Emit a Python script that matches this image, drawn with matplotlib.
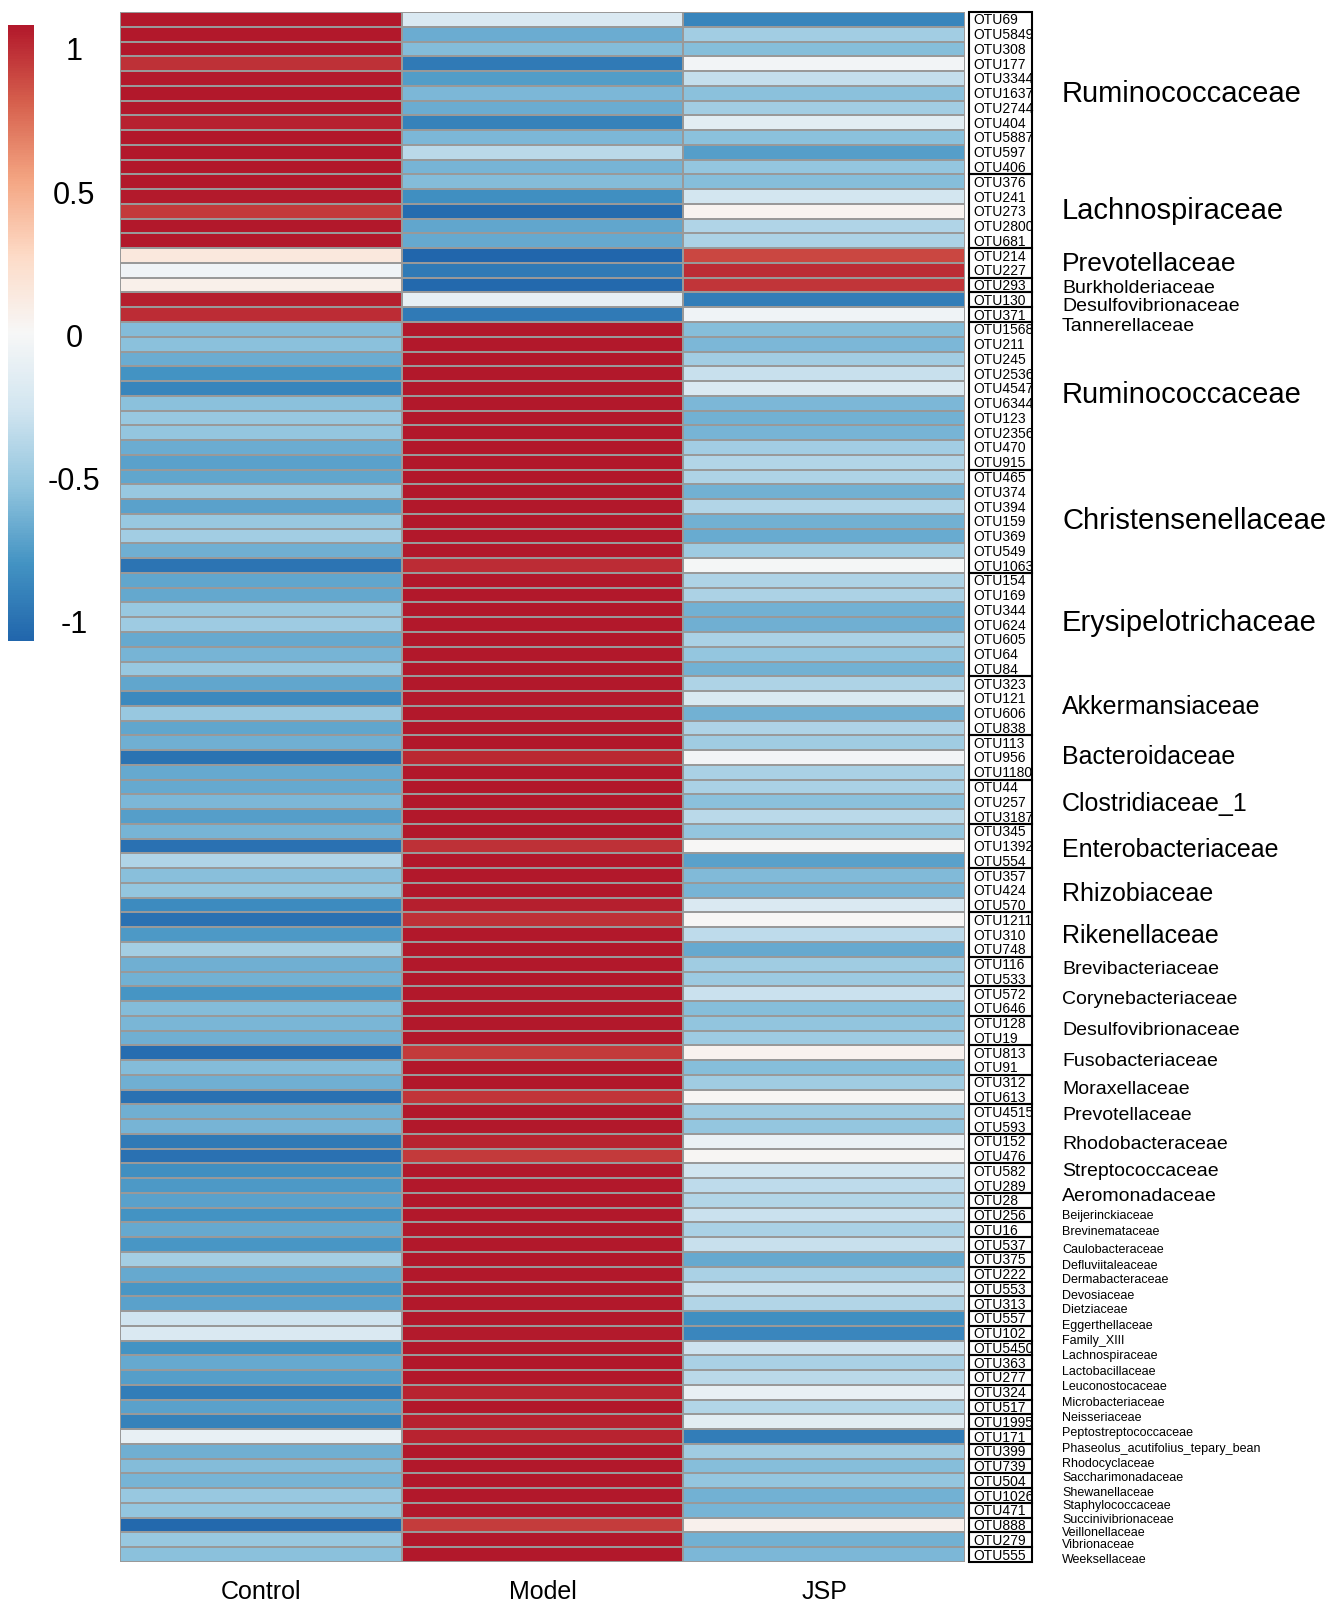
import numpy as np
import matplotlib
matplotlib.use("Agg")
import matplotlib.pyplot as plt
from matplotlib.colors import LinearSegmentedColormap
from matplotlib.patches import Rectangle
from matplotlib.transforms import blended_transform_factory

plt.rcParams['font.family'] = ['Liberation Sans', 'DejaVu Sans']

# columnas / muestras
samples = ['Control', 'Model', 'JSP']

otus = ['OTU69', 'OTU5849', 'OTU308', 'OTU177', 'OTU3344', 'OTU1637', 'OTU2744',
        'OTU404', 'OTU5887', 'OTU597', 'OTU406', 'OTU376', 'OTU241', 'OTU273',
        'OTU2800', 'OTU681', 'OTU214', 'OTU227', 'OTU293', 'OTU130', 'OTU371',
        'OTU1568', 'OTU211', 'OTU245', 'OTU2536', 'OTU4547', 'OTU6344', 'OTU123',
        'OTU2356', 'OTU470', 'OTU915', 'OTU465', 'OTU374', 'OTU394', 'OTU159',
        'OTU369', 'OTU549', 'OTU1063', 'OTU154', 'OTU169', 'OTU344', 'OTU624',
        'OTU605', 'OTU64', 'OTU84', 'OTU323', 'OTU121', 'OTU606', 'OTU838',
        'OTU113', 'OTU956', 'OTU1180', 'OTU44', 'OTU257', 'OTU3187', 'OTU345',
        'OTU1392', 'OTU554', 'OTU357', 'OTU424', 'OTU570', 'OTU1211', 'OTU310',
        'OTU748', 'OTU116', 'OTU533', 'OTU572', 'OTU646', 'OTU128', 'OTU19',
        'OTU813', 'OTU91', 'OTU312', 'OTU613', 'OTU4515', 'OTU593', 'OTU152',
        'OTU476', 'OTU582', 'OTU289', 'OTU28', 'OTU256', 'OTU16', 'OTU537',
        'OTU375', 'OTU222', 'OTU553', 'OTU313', 'OTU557', 'OTU102', 'OTU5450',
        'OTU363', 'OTU277', 'OTU324', 'OTU517', 'OTU1995', 'OTU171', 'OTU399',
        'OTU739', 'OTU504', 'OTU1026', 'OTU471', 'OTU888', 'OTU279', 'OTU555']

control = [1.08, 1.12, 1.15, 0.98, 1.07, 1.15, 1.12, 1.04, 1.15, 1.10, 1.14,
           1.15, 1.07, 0.95, 1.10, 1.10, 0.15, -0.05, 0.08, 1.05, 1.00,
           -0.58, -0.55, -0.66, -0.80, -0.88, -0.55, -0.50, -0.52, -0.66, -0.72,
           -0.70, -0.50, -0.72, -0.50, -0.46, -0.65, -0.98,
           -0.70, -0.69, -0.50, -0.48, -0.68, -0.62, -0.50,
           -0.70, -0.86, -0.50, -0.70, -0.65, -0.99, -0.68, -0.68, -0.60, -0.74,
           -0.62, -1.00, -0.40, -0.56, -0.52, -0.85, -1.00, -0.76, -0.45,
           -0.65, -0.64, -0.79, -0.58, -0.61, -0.65, -1.02, -0.58, -0.65, -1.00,
           -0.65, -0.62, -0.95, -1.00, -0.82, -0.76, -0.72,
           -0.80, -0.68, -0.78, -0.45, -0.68, -0.78, -0.72, -0.27, -0.20, -0.80,
           -0.68, -0.74, -0.93, -0.72, -0.90, -0.10, -0.65, -0.58, -0.62, -0.50,
           -0.52, -1.05, -0.50, -0.55]

model = [-0.20, -0.66, -0.58, -0.95, -0.75, -0.60, -0.66, -0.90, -0.60, -0.36, -0.62,
         -0.58, -0.82, -1.03, -0.70, -0.68, -1.07, -0.95, -1.05, -0.12, -0.95,
         1.15, 1.15, 1.12, 1.10, 1.08, 1.15, 1.14, 1.14, 1.12, 1.11,
         1.11, 1.14, 1.11, 1.14, 1.13, 1.13, 1.00,
         1.11, 1.11, 1.14, 1.13, 1.11, 1.14, 1.14,
         1.11, 1.07, 1.14, 1.11, 1.12, 1.02, 1.11, 1.11, 1.15, 1.10,
         1.14, 0.98, 1.12, 1.15, 1.14, 1.05, 0.98, 1.10, 1.13,
         1.12, 1.13, 1.08, 1.15, 1.14, 1.13, 0.95, 1.15, 1.12, 0.97,
         1.12, 1.14, 1.03, 0.95, 1.08, 1.10, 1.11,
         1.09, 1.11, 1.08, 1.13, 1.11, 1.08, 1.11, 1.09, 1.07, 1.08,
         1.11, 1.10, 1.03, 1.11, 1.04, 1.03, 1.12, 1.15, 1.14, 1.14,
         1.14, 0.94, 1.14, 1.15]

jsp = [-0.88, -0.46, -0.57, -0.03, -0.32, -0.55, -0.46, -0.14, -0.55, -0.74, -0.52,
       -0.57, -0.25, 0.04, -0.40, -0.42, 0.90, 1.00, 0.97, -0.93, -0.05,
       -0.57, -0.60, -0.46, -0.30, -0.20, -0.60, -0.64, -0.62, -0.46, -0.39,
       -0.41, -0.64, -0.39, -0.64, -0.67, -0.48, -0.02,
       -0.41, -0.42, -0.64, -0.65, -0.43, -0.52, -0.64,
       -0.41, -0.21, -0.64, -0.41, -0.47, -0.03, -0.43, -0.43, -0.55, -0.36,
       -0.52, 0.02, -0.72, -0.59, -0.62, -0.20, 0.02, -0.34, -0.68,
       -0.47, -0.49, -0.29, -0.57, -0.53, -0.48, 0.05, -0.57, -0.47, 0.03,
       -0.47, -0.52, -0.08, 0.03, -0.26, -0.34, -0.39,
       -0.29, -0.43, -0.30, -0.68, -0.43, -0.30, -0.39, -0.82, -0.87, -0.28,
       -0.43, -0.36, -0.10, -0.39, -0.14, -0.93, -0.47, -0.57, -0.52, -0.64,
       -0.62, 0.07, -0.64, -0.60]

# familias y numero de OTUs en cada grupo (de arriba a abajo)
families = ['Ruminococcaceae', 'Lachnospiraceae', 'Prevotellaceae', 'Burkholderiaceae',
            'Desulfovibrionaceae', 'Tannerellaceae', 'Ruminococcaceae',
            'Christensenellaceae', 'Erysipelotrichaceae', 'Akkermansiaceae',
            'Bacteroidaceae', 'Clostridiaceae_1', 'Enterobacteriaceae', 'Rhizobiaceae',
            'Rikenellaceae', 'Brevibacteriaceae', 'Corynebacteriaceae',
            'Desulfovibrionaceae', 'Fusobacteriaceae', 'Moraxellaceae', 'Prevotellaceae',
            'Rhodobacteraceae', 'Streptococcaceae', 'Aeromonadaceae',
            'Beijerinckiaceae', 'Brevinemataceae', 'Caulobacteraceae',
            'Defluviitaleaceae', 'Dermabacteraceae', 'Devosiaceae', 'Dietziaceae',
            'Eggerthellaceae', 'Family_XIII', 'Lachnospiraceae', 'Lactobacillaceae',
            'Leuconostocaceae', 'Microbacteriaceae', 'Neisseriaceae',
            'Peptostreptococcaceae', 'Phaseolus_acutifolius_tepary_bean',
            'Rhodocyclaceae', 'Saccharimonadaceae', 'Shewanellaceae',
            'Staphylococcaceae', 'Succinivibrionaceae', 'Veillonellaceae',
            'Vibrionaceae', 'Weeksellaceae']
family_sizes = [11, 5, 2, 1, 1, 1, 10, 7, 7, 4, 3, 3, 3, 3, 3, 2, 2, 2, 2, 2, 2, 2, 2, 1] + [1] * 24

cbar_ticks = [1, 0.5, 0, -0.5, -1]
cbar_labels = ['1', '0.5', '0', '-0.5', '-1']

# estilo de las etiquetas de familia: tamano de letra y desplazamiento vertical (en filas)
family_fs = [21, 21, 19, 14, 14, 14, 21, 21, 21, 18, 18, 18, 18, 18, 18,
             14, 14, 14, 14, 14, 14, 14, 14, 14] + [9] * 24
family_dy = [0, -0.1, 0, 0.15, 0.4, 0.75, -0.1, -0.1, -0.2, 0, -0.1, 0.1, 0.2, 0.2, 0,
             -0.2, -0.2, -0.1, 0, -0.1, -0.3, -0.35, -0.55, -0.35,
             0, 0.07, 0.28, 0.35, 0.35, 0.42, 0.35, 0.42, 0.49, 0.49, 0.56, 0.56,
             0.63, 0.69, 0.69, 0.76, 0.76, 0.76, 0.76, 0.63, 0.56, 0.49, 0.28, 0.28]

vals = np.array([control, model, jsp]).T
nrow = len(otus)

cmap = LinearSegmentedColormap.from_list(
    'rdbu', ['#2166AC', '#4393C3', '#92C5DE', '#D1E5F0', '#F7F7F7',
             '#FDDBC7', '#F4A582', '#D6604D', '#B2182B'])
vmin, vmax = -1.07, 1.08

W, H = 1325, 1608
fig = plt.figure(figsize=(W / 100, H / 100), dpi=100)

top, bot = 13, 1563
ax = fig.add_axes([120 / W, 1 - bot / H, 845 / W, (bot - top) / H])
mesh = ax.pcolormesh(np.arange(4), np.arange(nrow + 1), vals, cmap=cmap,
                     vmin=vmin, vmax=vmax, edgecolor='#999999', linewidth=1.1)
ax.set_xlim(0, 3)
ax.set_ylim(nrow, 0)
ax.set_yticks([])
ax.set_xticks(np.arange(3) + 0.5)
ax.set_xticklabels(samples, fontsize=18)
ax.tick_params(axis='x', length=0, pad=12)
for s in ax.spines.values():
    s.set_visible(False)

# columna de nombres de OTU con cajas por familia
lab = fig.add_axes([969 / W, 1 - bot / H, 63 / W, (bot - top) / H])
lab.set_xlim(0, 1)
lab.set_ylim(nrow, 0)
lab.axis('off')
for i, name in enumerate(otus):
    lab.text(0.07, i + 0.5, name, fontsize=10, va='center', ha='left')

trans = blended_transform_factory(fig.transFigure, lab.transData)
start = 0
for fam, n, fs, dy in zip(families, family_sizes, family_fs, family_dy):
    lab.add_patch(Rectangle((0, start), 1, n, fill=False, edgecolor='black',
                            linewidth=1.5, clip_on=False))
    fig.text(1062 / W, start + n / 2 + dy, fam, transform=trans, fontsize=fs,
             va='center', ha='left')
    start += n

# barra de color
cax = fig.add_axes([8 / W, 1 - 642 / H, 26 / W, 616 / H])
cb = fig.colorbar(mesh, cax=cax)
cb.outline.set_visible(False)
cb.set_ticks(cbar_ticks)
cb.set_ticklabels(cbar_labels)
cax.tick_params(length=0, labelsize=22, pad=29)
for t in cax.get_yticklabels():
    t.set_horizontalalignment('center')

fig.savefig('out.png', dpi=100)
